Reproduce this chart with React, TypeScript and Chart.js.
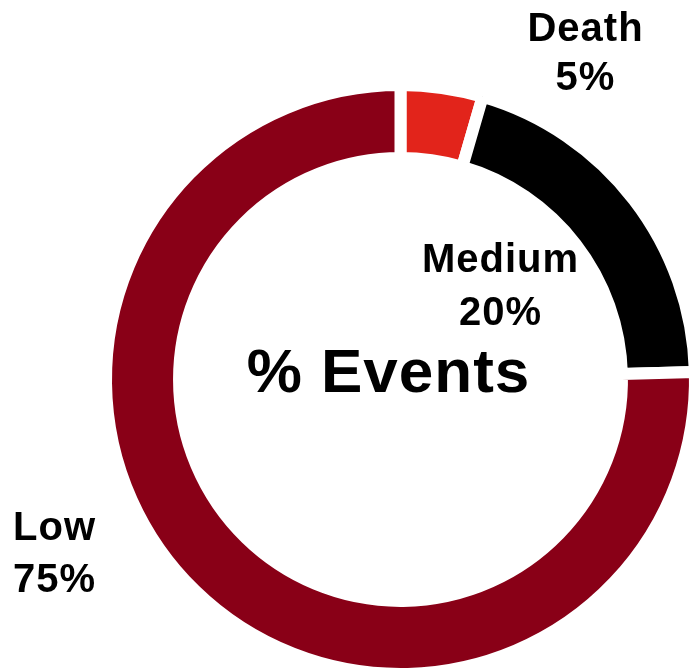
import React, { useEffect, useRef } from "react";
import { Chart, registerables } from "chart.js";

Chart.register(...registerables);

const categories = ["Death", "Medium", "Low"];
const values = [4.5, 20.1, 75.4];
const percentLabels = ["5%", "20%", "75%"];
const colors = ["#E2241B", "#000000", "#890017"];
const centerTitle = "% Events";

const FONT = "'Liberation Sans', Arial, sans-serif";

// label placement relative to the doughnut centre: [dx, baseline1, baseline2]
const labelPlacement: Record<string, [number, number, number]> = {
  Death: [185, -339, -290],
  Medium: [100, -108, -55],
  Low: [-346, 160.5, 212],
};

const textPlugin = {
  id: "ringText",
  afterDraw(chart: any) {
    const ctx = chart.ctx as any;
    const arc = chart.getDatasetMeta(0).data[0];
    const cx = arc.x;
    const cy = arc.y;
    ctx.save();
    ctx.fillStyle = "#000";
    ctx.textAlign = "center";
    ctx.textBaseline = "alphabetic";
    ctx.font = `bold 40px ${FONT}`;
    ctx.letterSpacing = "1px";
    categories.forEach((c, i) => {
      const p = labelPlacement[c];
      ctx.fillText(c, cx + p[0], cy + p[1]);
      ctx.fillText(percentLabels[i], cx + p[0], cy + p[2]);
    });
    ctx.font = `bold 62px ${FONT}`;
    ctx.letterSpacing = "1px";
    ctx.fillText(centerTitle, cx - 12, cy + 12);
    ctx.restore();
  },
};

export default function App() {
  const ref = useRef<HTMLCanvasElement>(null);
  useEffect(() => {
    document.body.style.margin = "0";
    const chart = new Chart(ref.current!, {
      type: "doughnut",
      data: {
        labels: categories,
        datasets: [
          {
            data: values,
            backgroundColor: colors,
            borderColor: "#ffffff",
            borderWidth: 12,
          },
        ],
      },
      options: {
        responsive: false,
        animation: false,
        cutout: "75.2%",
        layout: { padding: { left: 100, top: 79, right: 19, bottom: 40 } },
        plugins: {
          legend: { display: false },
          tooltip: { enabled: false },
        },
      },
      plugins: [textPlugin],
    });
    return () => chart.destroy();
  }, []);
  return (
    <div
      style={{
        position: "fixed",
        left: 0,
        top: 0,
        width: 689,
        height: 671,
        overflow: "hidden",
        background: "#fff",
      }}
    >
      <canvas ref={ref} width={720} height={720} style={{ display: "block" }} />
    </div>
  );
}
